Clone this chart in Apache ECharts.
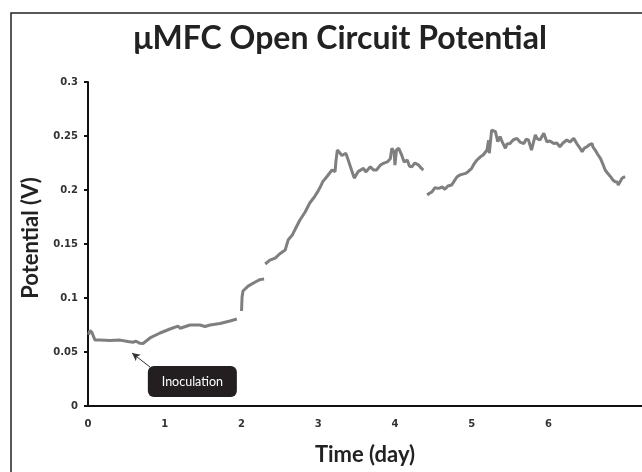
<!DOCTYPE html>
<html>
<head>
<meta charset="utf-8">
<script src="https://cdn.jsdelivr.net/npm/echarts@6/dist/echarts.min.js"></script>
<style>
html,body{margin:0;padding:0;background:#fff;}
#chart{width:642px;height:472px;}
</style>
</head>
<body>
<div id="chart"></div>
<script>
// ---- data (day, potential V) ----
const seg1 = [[0.007,0.066],[0.026,0.070],[0.052,0.068],[0.091,0.061],[0.156,0.061],[0.287,0.0606],[0.417,0.061],[0.52,0.0597],[0.587,0.059],[0.626,0.060],[0.678,0.058],[0.717,0.0579],[0.808,0.063],[0.939,0.0676],[1.069,0.0713],[1.173,0.074],[1.2,0.072],[1.33,0.075],[1.46,0.075],[1.525,0.0736],[1.59,0.075],[1.72,0.0764],[1.85,0.0787],[1.94,0.0806]];
const seg2 = [[2.001,0.088],[2.008,0.101],[2.02,0.1065],[2.086,0.111],[2.18,0.1148],[2.24,0.117],[2.295,0.1176]];
const seg3 = [[2.31,0.1315],[2.37,0.135],[2.44,0.137],[2.5,0.141],[2.57,0.1444],[2.61,0.154],[2.66,0.158],[2.71,0.165],[2.76,0.172],[2.83,0.1796],[2.89,0.188],[2.95,0.1935],[2.99,0.198],[3.02,0.2018],[3.06,0.2077],[3.12,0.213],[3.18,0.2185],[3.22,0.217],[3.23,0.226],[3.25,0.237],[3.31,0.232],[3.36,0.234],[3.39,0.228],[3.42,0.2216],[3.47,0.211],[3.52,0.217],[3.59,0.220],[3.62,0.2167],[3.68,0.2216],[3.72,0.2185],[3.76,0.2185],[3.81,0.223],[3.85,0.2247],[3.9,0.226],[3.94,0.229],[3.96,0.2386],[3.99,0.235],[4.0,0.223],[4.02,0.237],[4.05,0.2386],[4.09,0.232],[4.12,0.226],[4.16,0.2278],[4.19,0.222],[4.22,0.2216],[4.26,0.225],[4.31,0.223],[4.34,0.2204],[4.37,0.2185]];
const seg4 = [[4.42,0.1954],[4.45,0.197],[4.48,0.198],[4.52,0.202],[4.57,0.2015],[4.62,0.2028],[4.65,0.2006],[4.69,0.2037],[4.74,0.2046],[4.77,0.208],[4.81,0.2123],[4.85,0.214],[4.92,0.2154],[4.95,0.2167],[5.0,0.220],[5.03,0.224],[5.07,0.2278],[5.11,0.2305],[5.15,0.2324],[5.2,0.237],[5.22,0.246],[5.23,0.234],[5.26,0.2555],[5.31,0.254],[5.34,0.2447],[5.37,0.2494],[5.4,0.2444],[5.44,0.2386],[5.46,0.2426],[5.5,0.243],[5.54,0.2463],[5.59,0.2478],[5.63,0.2444],[5.68,0.243],[5.71,0.247],[5.74,0.2463],[5.78,0.237],[5.83,0.251],[5.85,0.2478],[5.89,0.2463],[5.94,0.2525],[5.98,0.2447],[6.02,0.2454],[6.07,0.243],[6.11,0.2435],[6.15,0.240],[6.19,0.2435],[6.24,0.2463],[6.28,0.2444],[6.33,0.2478],[6.37,0.243],[6.4,0.24],[6.44,0.2355],[6.47,0.2389],[6.5,0.240],[6.53,0.2417],[6.57,0.243],[6.58,0.24],[6.61,0.237],[6.64,0.2333],[6.68,0.229],[6.71,0.224],[6.74,0.2185],[6.77,0.2157],[6.81,0.2123],[6.84,0.2093],[6.87,0.2077],[6.9,0.2074],[6.91,0.2046],[6.94,0.2083],[6.96,0.211],[6.97,0.2093],[7.0,0.2123]];
const xTickLabels = [0,1,2,3,4,5,6];
const yTickLabels = ['0','0.05','0.1','0.15','0.2','0.25','0.3'];
const titleText = 'μMFC Open Circuit Potential';
const xName = 'Time (day)';
const yName = 'Potential (V)';
const noteText = 'Inoculation';
const noteTip = [0.574, 0.049];
const noteTail = [0.81, 0.036];
const noteBox = [1.36, 0.0227];

const chart = echarts.init(document.getElementById('chart'), null, {renderer:'canvas'});
const lineColor = '#7f7f7f';
function seg(d){
  return {type:'line', data:d, showSymbol:false, symbol:'none', smooth:false,
    lineStyle:{color:lineColor, width:3}, z:3, animation:false};
}
const s1 = seg(seg1);
s1.markLine = {silent:true, symbol:['none','arrow'], symbolSize:[6,8], animation:false,
  lineStyle:{color:'#333', width:1, type:'solid'}, label:{show:false},
  data:[[{coord:noteTail},{coord:noteTip}]]};
s1.markPoint = {silent:true, symbol:'rect', symbolSize:[1,1], animation:false,
  itemStyle:{color:'rgba(0,0,0,0)'},
  data:[{coord:noteBox, label:{show:true, position:'inside', formatter:noteText,
    color:'#fff', fontFamily:'Lato', fontSize:12.5, backgroundColor:'#231f20',
    borderRadius:6, width:89, height:31, align:'center', verticalAlign:'middle', lineHeight:31}}]};

const option = {
  backgroundColor:'#fff',
  animation:false,
  title:{text:titleText, left:335, top:18, textAlign:'center',
    textStyle:{fontFamily:'Lato', fontWeight:'bold', fontSize:32, color:'#222'}},
  grid:{left:88, right:0, top:82, bottom:66, containLabel:false},
  xAxis:{type:'value', min:0, max:7.22, interval:1,
    name:xName, nameLocation:'middle', nameGap:38,
    nameTextStyle:{fontFamily:'Lato', fontWeight:'bold', fontSize:22, color:'#222'},
    axisLine:{show:true, onZero:false, lineStyle:{color:'#111', width:2}},
    axisTick:{show:false},
    splitLine:{show:false},
    axisLabel:{customValues:xTickLabels, formatter:v=> xTickLabels.indexOf(Math.round(v))>=0 && Math.abs(v-Math.round(v))<1e-6 ? String(Math.round(v)) : '',
      fontFamily:'DejaVu Sans', fontWeight:'bold', fontSize:10, color:'#333', margin:13}},
  yAxis:{type:'value', min:0, max:0.3, interval:0.05,
    name:yName, nameLocation:'middle', nameGap:46, nameRotate:90,
    nameTextStyle:{fontFamily:'Lato', fontWeight:'bold', fontSize:22, color:'#222', padding:[0,0,0,12]},
    axisLine:{show:true, lineStyle:{color:'#111', width:2}},
    axisTick:{show:true, length:4, inside:false, lineStyle:{color:'#111', width:2}},
    splitLine:{show:false},
    axisLabel:{formatter:v=> yTickLabels[Math.round(v/0.05)] || '',
      fontFamily:'DejaVu Sans', fontWeight:'bold', fontSize:10, color:'#333', margin:10}},
  graphic:[{type:'rect', shape:{x:11, y:13, width:720, height:520},
    style:{fill:'none', stroke:'#222', lineWidth:1.5}, silent:true, z:0}],
  series:[s1, seg(seg2), seg(seg3), seg(seg4)]
};
chart.setOption(option);
</script>
</body>
</html>
